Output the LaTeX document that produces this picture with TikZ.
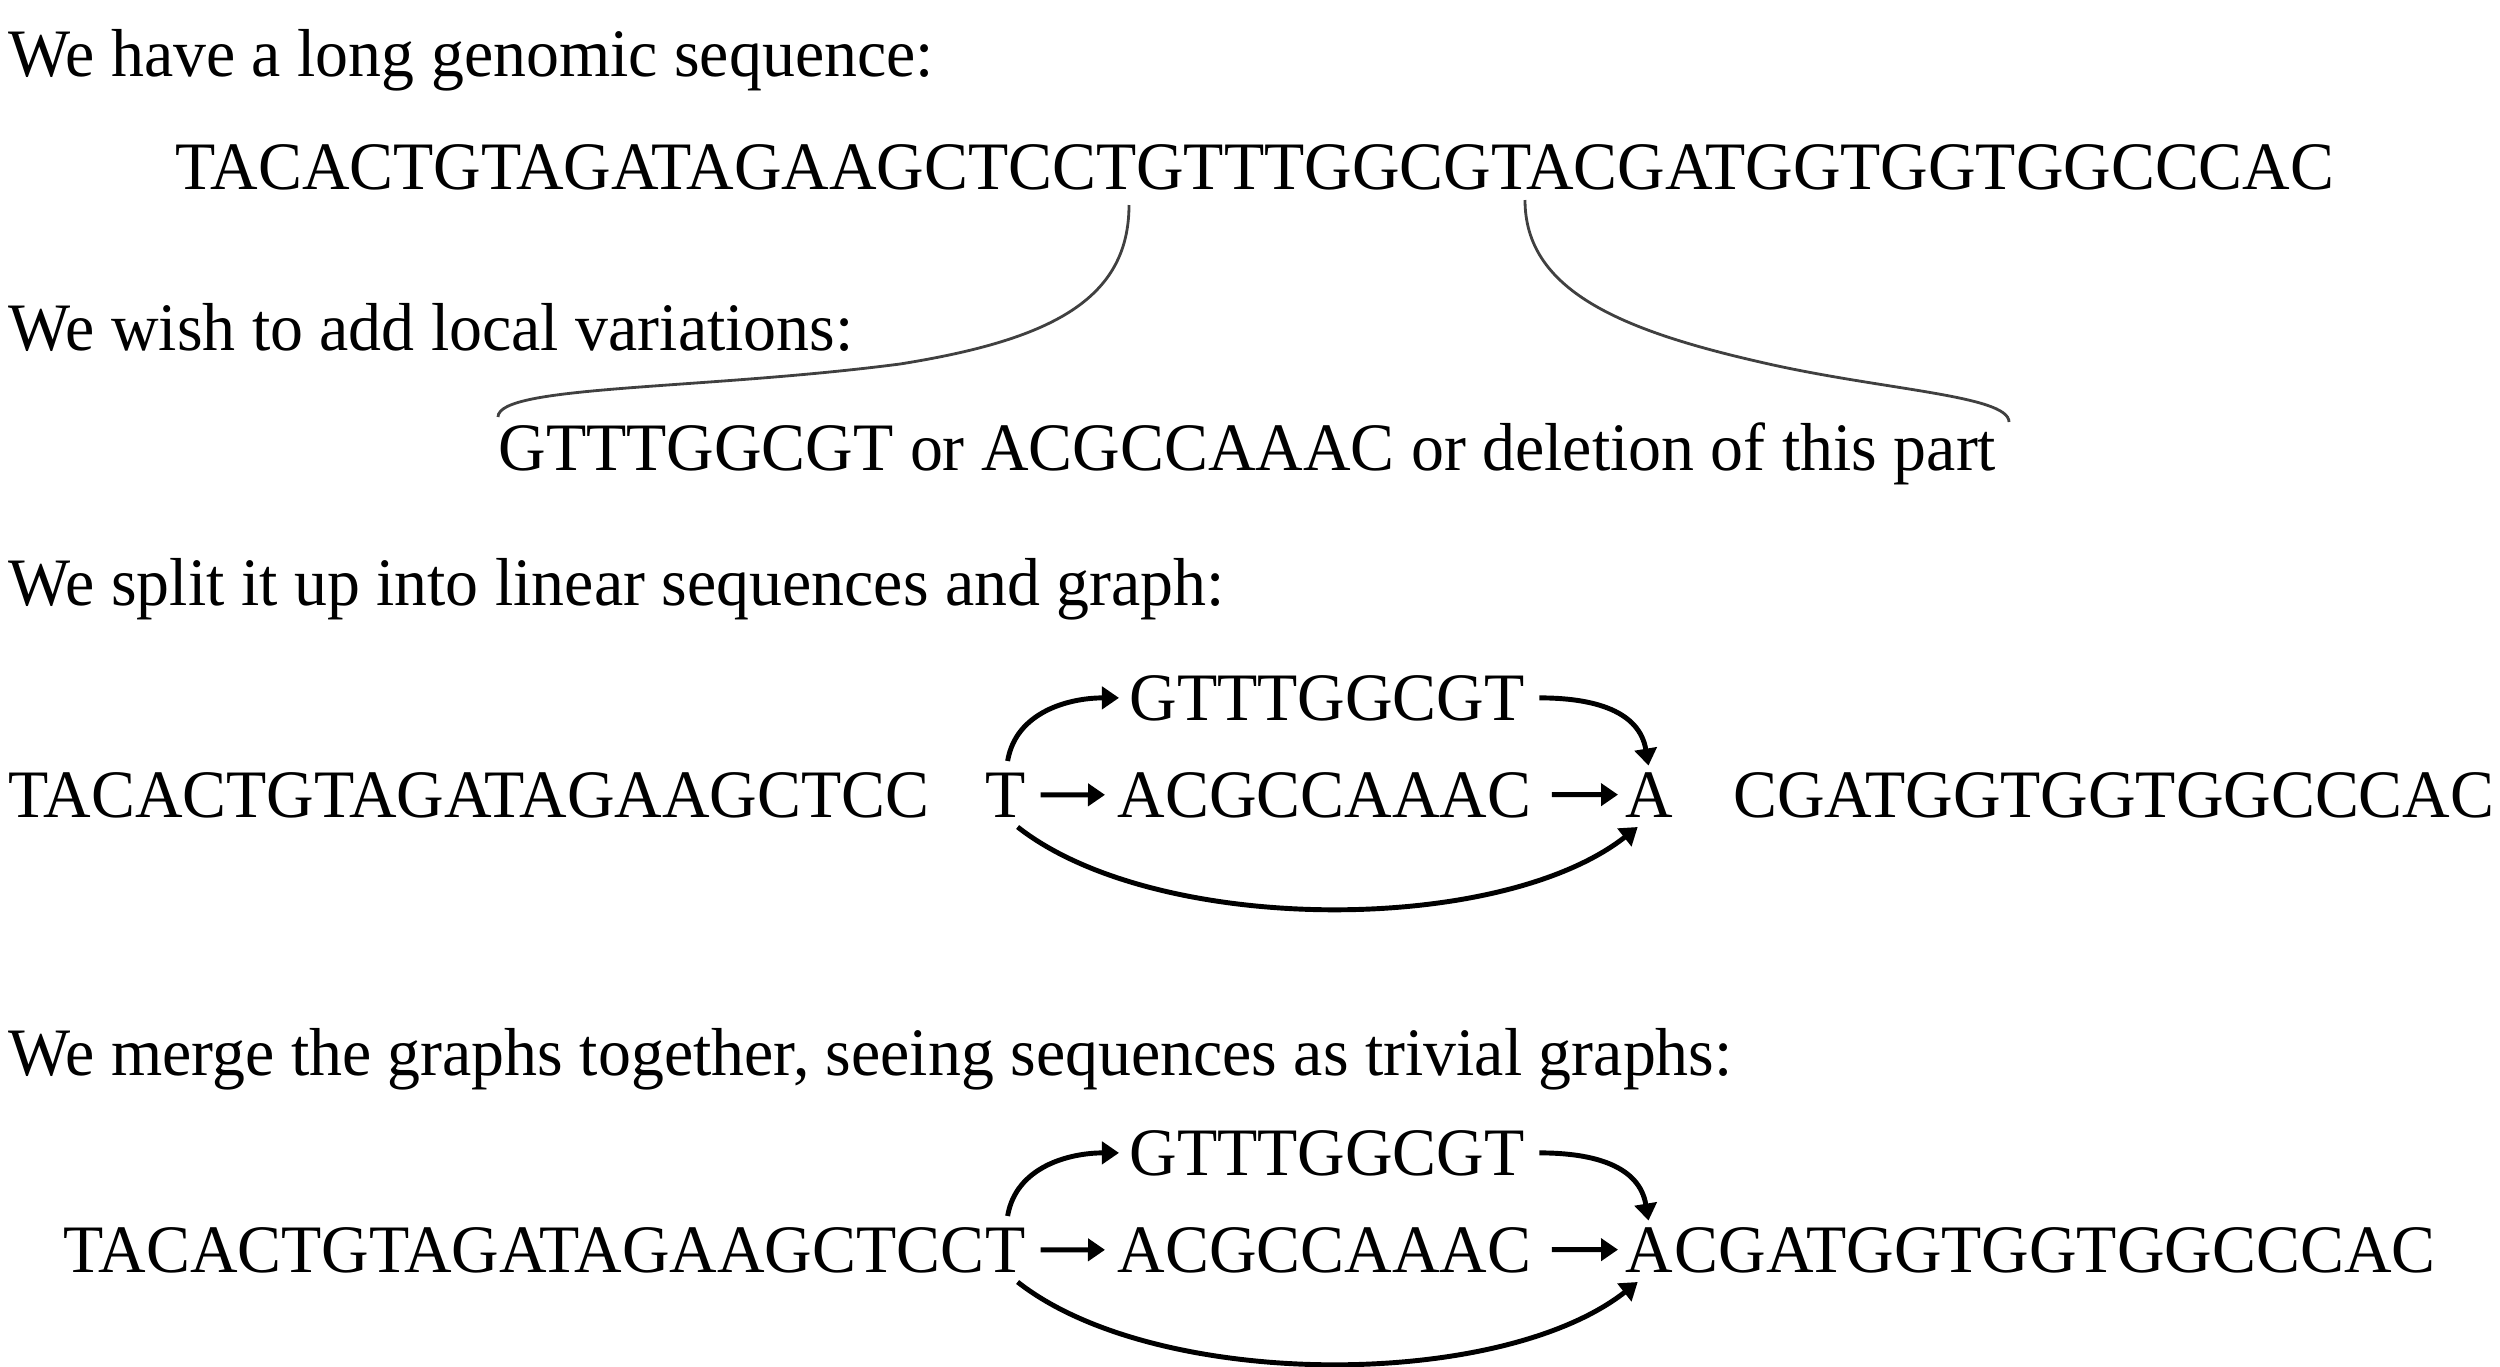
\documentclass[tikz,border=0pt]{standalone}
\usepackage{fontspec}
\setmainfont[FakeStretch=0.97]{Liberation Serif}
\usetikzlibrary{arrows.meta}
\tikzset{
  seq/.style={inner sep=0pt, anchor=base west, font=\fontsize{19.3pt}{23pt}\selectfont},
  edge/.style={-{Triangle[length=0.17cm,width=0.22cm]}, line width=1.4pt},
  brace/.style={draw=black!75, line width=0.8pt},
}
\begin{document}
\begin{tikzpicture}[x=0.01cm,y=-0.01cm]
\useasboundingbox (0,0) rectangle (2500,1366);
% long sequence
\node[seq] (havehead) at (8,76) {We have a long genomic sequence:};
\node[seq] (fullseq) at (175,189) {TACACTGTAGATAGAAGCTCCTGTTTGGCGTACGATGGTGGTGGCCCAC};
% local variations
\node[seq] (varhead) at (8,350) {We wish to add local variations:};
\node[seq] (vartext) at (498,470) {GTTTGGCGT or ACGCCAAAC or deletion of this part};
\coordinate (leftcut) at (1129,205);
\coordinate (rightcut) at (1525,200);
\coordinate (varleft) at (498,417);
\coordinate (varright) at (2009,422);
\draw[brace] (leftcut) .. controls (1129,300) and (1050,340) .. (900,364)
                       .. controls (700,390) and (498,385) .. (varleft);
\draw[brace] (rightcut) .. controls (1525,290) and (1620,330) .. (1760,362)
                        .. controls (1880,390) and (2009,395) .. (varright);
% split into graph
\node[seq] (splithead) at (8,605) {We split it up into linear sequences and graph:};
\node[seq] (lefta) at (8,817) {TACACTGTAGATAGAAGCTCC};
\node[seq] (ta) at (985,817) {T};
\node[seq] (topa) at (1129,720) {GTTTGGCGT};
\node[seq] (mida) at (1117,817) {ACGCCAAAC};
\node[seq] (aa) at (1625,817) {A};
\node[seq, anchor=base east] (righta) at (2495,817) {CGATGGTGGTGGCCCAC};
\draw[edge, shorten <=0.14cm, shorten >=0.12cm] (ta) -- (mida);
\draw[edge, shorten <=0.2cm, shorten >=0.07cm] (mida) -- (aa);
\draw[edge, shorten <=0.11cm, shorten >=0.1cm] (ta.north) .. controls +(10,-60) and +(-60,0) .. (topa.west);
\draw[edge, shorten <=0.14cm, shorten >=0.06cm] (topa.east) .. controls +(70,0) and +(-10,-60) .. (aa.north);
\draw[edge, shorten <=0.15cm, shorten >=0.15cm] (ta.south) .. controls +(150,118) and +(-150,118) .. (aa.south);
% merged graph
\node[seq] (mergehead) at (8,1075) {We merge the graphs together, seeing sequences as trivial graphs:};
\node[seq] (tb) at (985,1272) {T};
\node[seq, anchor=base east] (leftb) at (tb.base west) {TACACTGTAGATAGAAGCTCC};
\node[seq] (topb) at (1129,1175) {GTTTGGCGT};
\node[seq] (midb) at (1117,1272) {ACGCCAAAC};
\node[seq] (ab) at (1625,1272) {A};
\node[seq] (rightb) at (ab.base east) {CGATGGTGGTGGCCCAC};
\draw[edge, shorten <=0.14cm, shorten >=0.12cm] (tb) -- (midb);
\draw[edge, shorten <=0.2cm, shorten >=0.07cm] (midb) -- (ab);
\draw[edge, shorten <=0.11cm, shorten >=0.1cm] (tb.north) .. controls +(10,-60) and +(-60,0) .. (topb.west);
\draw[edge, shorten <=0.14cm, shorten >=0.06cm] (topb.east) .. controls +(70,0) and +(-10,-60) .. (ab.north);
\draw[edge, shorten <=0.15cm, shorten >=0.15cm] (tb.south) .. controls +(150,118) and +(-150,118) .. (ab.south);
\end{tikzpicture}
\end{document}
